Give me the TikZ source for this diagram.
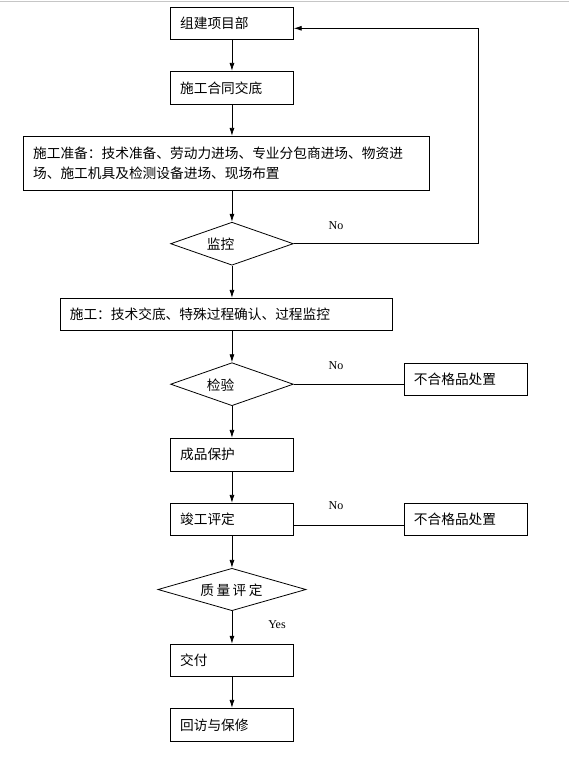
\documentclass[tikz,border=0pt]{standalone}
\usepackage{fontspec}
\newfontfamily\cjk{Noto Sans CJK SC}
\newfontfamily\lat{Liberation Serif}
\usetikzlibrary{shapes.geometric,arrows.meta}
\begin{document}
\begin{tikzpicture}[x=1pt,y=-1pt,
  every node/.style={font=\cjk\fontsize{13.7}{20}\selectfont},
  box/.style={draw,line width=0.8pt,rectangle,inner xsep=9.5pt,inner ysep=0pt,align=left,minimum height=32pt},
  dia/.style={draw,line width=0.8pt,diamond,inner sep=0pt},
  lbl/.style={font=\lat\fontsize{12}{14}\selectfont,inner sep=0pt},
  arr/.style={line width=0.8pt,-{Latex[length=8pt,width=5pt]}},
  ln/.style={line width=0.8pt}]
\useasboundingbox (0,0) rectangle (569,774);
\draw[gray!45,line width=1.2pt] (0,1.6) -- (569,1.6);
% boxes
\node[box,text width=103.7pt,minimum height=32pt] (b1) at (231.95,23.3) {组建项目部};
\node[box,text width=103.7pt,minimum height=33pt] (b2) at (231.95,87.8) {施工合同交底};
\node[box,text width=387.2pt,minimum height=54pt] (b3) at (226.7,163.3) {施工准备：技术准备、劳动力进场、专业分包商进场、物资进\\场、施工机具及检测设备进场、现场布置};
\node[dia,minimum width=122.7pt,minimum height=43pt] (d1) at (231.95,243.7) {};
\node[inner sep=0pt] (d1t) at (220.5,244.5) {监控};
\node[box,text width=313.1pt,minimum height=32pt] (b4) at (226.35,314.3) {施工：技术交底、特殊过程确认、过程监控};
\node[dia,minimum width=122.7pt,minimum height=43pt] (d2) at (231.95,384.2) {};
\node[inner sep=0pt] (d2t) at (220.5,385) {检验};
\node[box,text width=104pt,minimum height=32pt] (r1) at (465.9,379.3) {不合格品处置};
\node[box,text width=103.7pt,minimum height=33pt] (b5) at (231.95,454.8) {成品保护};
\node[box,text width=103.7pt,minimum height=32pt] (b6) at (231.95,519.3) {竣工评定};
\node[box,text width=104pt,minimum height=32pt] (r2) at (465.9,519.3) {不合格品处置};
\node[dia,minimum width=148.1pt,minimum height=42.4pt] (d3) at (231.95,589.5) {};
\node[inner sep=0pt] (d3t) at (231.5,590.5) {质\hspace{2.5pt}量\hspace{2.5pt}评\hspace{2.5pt}定};
\node[box,text width=103.7pt,minimum height=32pt] (b7) at (231.95,660.2) {交付};
\node[box,text width=103.7pt,minimum height=33pt] (b8) at (231.95,724.8) {回访与保修};
% labels
\node[lbl] (n1) at (336,225.7) {No};
\node[lbl] (n2) at (336,365.3) {No};
\node[lbl] (n3) at (336,506) {No};
\node[lbl] (y1) at (277,624.3) {Yes};
% connectors
\coordinate (c1) at (478.4,28.3);
\draw[arr] (b1) -- (b2);
\draw[arr] (b2) -- (b2 |- b3.north);
\draw[arr] (b2 |- b3.south) -- (d1.north);
\draw[arr] (d1.south) -- (d1 |- b4.north);
\draw[arr] (d1.east) -| (c1) -- (c1 -| b1.east);
\draw[arr] (d1 |- b4.south) -- (d2.north);
\draw[ln] (d2.east) -- (d2.east -| r1.west);
\draw[arr] (d2.south) -- (b5.north);
\draw[arr] (b5) -- (b6);
\draw[ln] ([yshift=-5.7pt]b6.east) -- ([yshift=-5.7pt]b6.east -| r2.west);
\draw[arr] (b6) -- (d3.north);
\draw[arr] (d3.south) -- (b7.north);
\draw[arr] (b7) -- (b8);
\end{tikzpicture}
\end{document}
